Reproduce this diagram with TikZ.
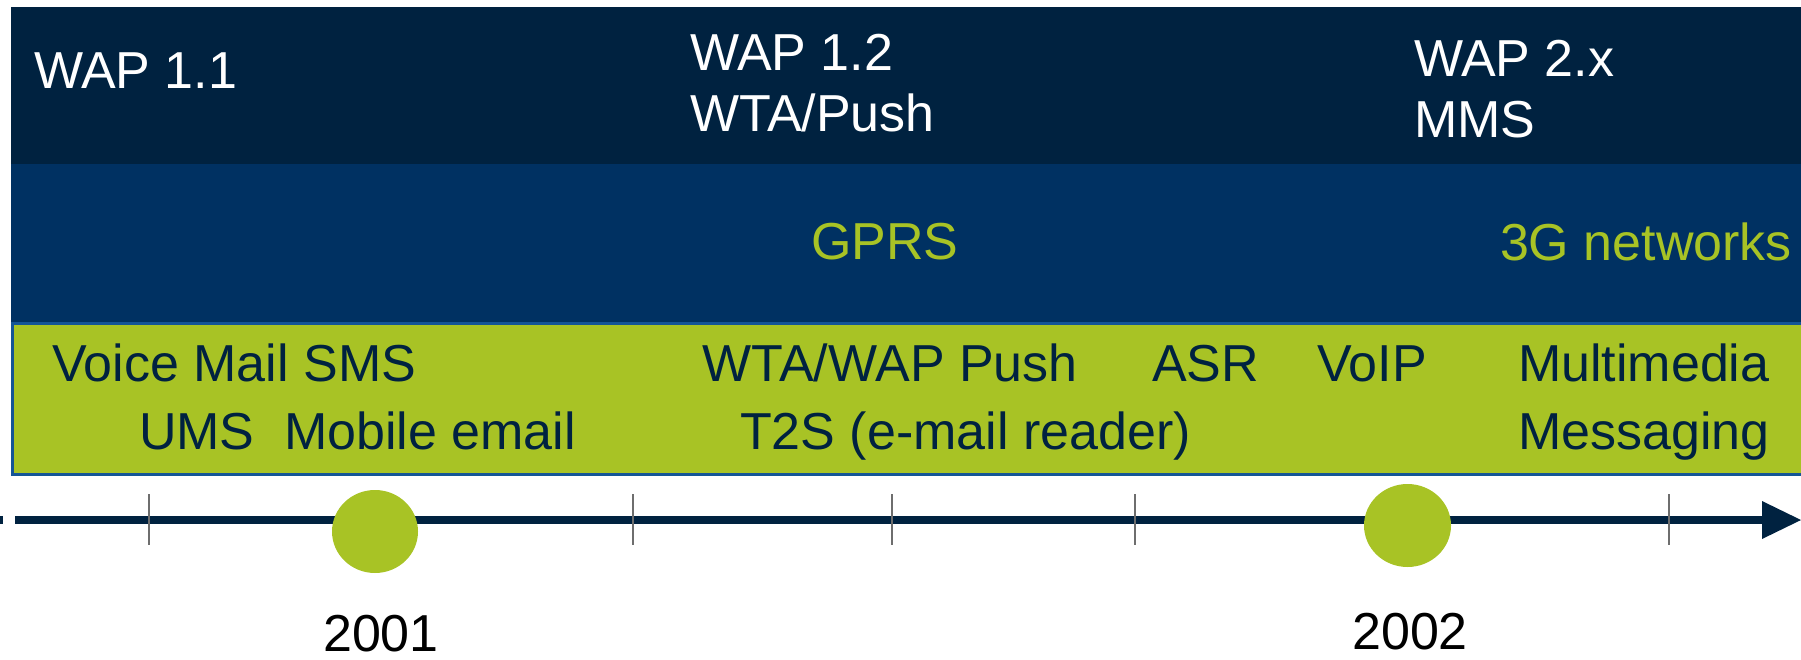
\documentclass[tikz,border=0pt]{standalone}
\usepackage{fontspec}
\setmainfont{Liberation Sans}
\definecolor{navytop}{RGB}{0,34,64}
\definecolor{navymid}{RGB}{0,49,98}
\definecolor{lime}{RGB}{168,195,37}
\definecolor{edgeblue}{RGB}{20,85,150}
\definecolor{tickgray}{RGB}{110,110,110}
\tikzset{
  lbl/.style={inner sep=0pt, outer sep=0pt, anchor=base west,
              font=\fontsize{52}{62}\selectfont},
  toplbl/.style={lbl, text=white},
  netlbl/.style={lbl, text=lime},
  svclbl/.style={lbl, text=navytop},
  yearlbl/.style={lbl, anchor=base, text=black},
  tickmark/.style={draw=tickgray, line width=2.5pt},
  milestone/.style={fill=lime}
}
\begin{document}
\begin{tikzpicture}[x=1pt,y=-1pt]
\useasboundingbox (0,0) rectangle (1801,659);

% layered bands
\fill[navytop] (11,7) rectangle (1801,164);
\fill[navymid] (11,164) rectangle (1801,322);
\fill[lime] (11,322) rectangle (1801,475);
\draw[edgeblue, line width=3pt] (1801,323) -- (12,323) -- (12,474) -- (1801,474);

% protocol row
\node[toplbl] (wap11) at (34,88) {WAP 1.1};
\node[toplbl] (wap12) at (690,70) {WAP 1.2};
\node[toplbl] (wtapush) at (690,131) {WTA/Push};
\node[toplbl] (wap2x) at (1414,76) {WAP 2.x};
\node[toplbl] (mms) at (1414,137) {MMS};

% network row
\node[netlbl] (gprs) at (811,259) {GPRS};
\node[netlbl] (g3) at (1500,260) {3G networks};

% service row
\node[svclbl] (voicemail) at (52,381) {Voice Mail SMS};
\node[svclbl] (ums) at (139,449) {UMS};
\node[svclbl] (mobile) at (284,449) {Mobile email};
\node[svclbl] (wtawap) at (702,381) {WTA/WAP Push};
\node[svclbl] (t2s) at (740,449) {T2S (e-mail reader)};
\node[svclbl] (asr) at (1152,381) {ASR};
\node[svclbl] (voip) at (1317,381) {VoIP};
\node[svclbl] (multimedia) at (1518,381) {Multimedia};
\node[svclbl] (messaging) at (1518,449) {Messaging};

% time axis
\coordinate (axisstart) at (15,520);
\coordinate (axisend) at (1764,520);
\fill[navytop] (0,516) rectangle (3,524);
\draw[navytop, line width=8pt] (axisstart) -- (axisend);
\fill[navytop] (1762,501) -- (1801,520) -- (1762,539) -- cycle;
\foreach \tx in {149,633,892,1135,1669}
  \draw[tickmark] (\tx,494) -- (\tx,545);

% milestones
\fill[milestone] (375,531.5) ellipse [x radius=43pt, y radius=41.5pt];
\fill[milestone] (1407.5,525.5) ellipse [x radius=43.5pt, y radius=41.5pt];
\node[yearlbl] (y2001) at (381,651) {2001};
\node[yearlbl] (y2002) at (1410,649) {2002};
\end{tikzpicture}
\end{document}
